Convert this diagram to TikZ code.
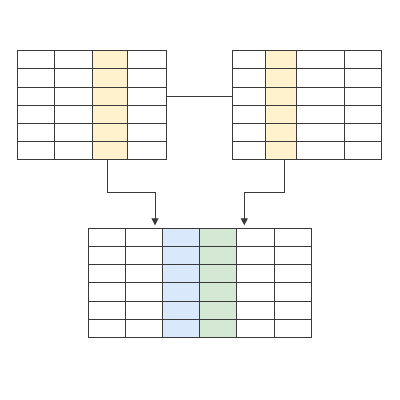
\documentclass[tikz,border=0pt]{standalone}
\usetikzlibrary{arrows.meta}
\definecolor{ylw}{HTML}{FFF2CC}
\definecolor{blu}{HTML}{DAE8FC}
\definecolor{grn}{HTML}{D5E8D4}
\definecolor{ln}{HTML}{3A3A3A}
\begin{document}
\begin{tikzpicture}[x=1pt,y=-1pt,
  gridline/.style={draw=ln,line width=0.8pt},
  tbl/.style={inner sep=0pt,outer sep=0pt},
  conn/.style={draw=ln,line width=0.8pt},
  tipped/.style={-{Triangle[length=7pt,width=7pt]},shorten >=3pt}]
\useasboundingbox (0,0) rectangle (400,400);
% table nodes
\node[tbl,minimum width=149.4pt,minimum height=108.6pt] (A) at (92,105) {};
\node[tbl,minimum width=149pt,minimum height=108.6pt] (B) at (307.2,105) {};
\node[tbl,minimum width=223.4pt,minimum height=109pt] (C) at (200,282.8) {};
% fills
\fill[ylw] (92.3,50.7) rectangle (127.3,159.3);
\fill[ylw] (265.7,50.7) rectangle (296.3,159.3);
\fill[blu] (162.3,228.3) rectangle (199.3,337.3);
\fill[grn] (199.3,228.3) rectangle (236.7,337.3);
% grid A
\foreach \x in {54.3,92.3,127.3} \draw[gridline] (\x,50.7) -- (\x,159.3);
\foreach \y in {68.8,86.9,105,123.1,141.2} \draw[gridline] (17.3,\y) -- (166.7,\y);
\draw[gridline] (A.north west) rectangle (A.south east);
% grid B
\foreach \x in {265.7,296.3,344.3} \draw[gridline] (\x,50.7) -- (\x,159.3);
\foreach \y in {68.8,86.9,105,123.1,141.2} \draw[gridline] (232.7,\y) -- (381.7,\y);
\draw[gridline] (B.north west) rectangle (B.south east);
% grid C
\foreach \x in {125,162.3,199.3,236.7,274.3} \draw[gridline] (\x,228.3) -- (\x,337.3);
\foreach \y in {246.5,264.6,282.8,301,319.2} \draw[gridline] (88.3,\y) -- (311.7,\y);
\draw[gridline] (C.north west) rectangle (C.south east);
% connectors
\draw[conn] (A.east |- 0,96.7) -- (B.west |- 0,96.7);
\draw[conn,tipped] (A.south -| 107.7,0) |- (155,192.3) -- (C.north -| 155,0);
\draw[conn,tipped] (B.south -| 284.7,0) |- (244.3,192.3) -- (C.north -| 244.3,0);
\end{tikzpicture}
\end{document}
